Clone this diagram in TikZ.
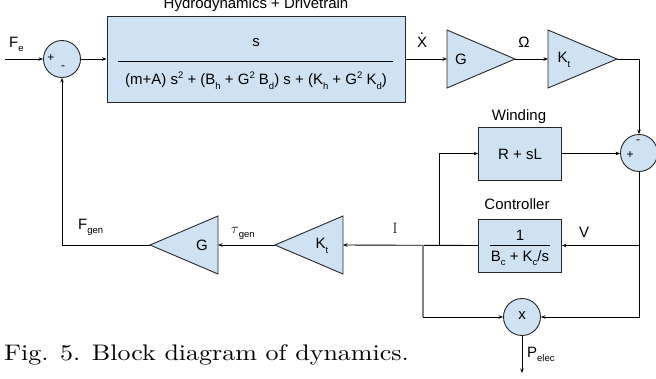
\documentclass[tikz,border=0pt]{standalone}
\usepackage{fontspec}
\newfontfamily\arial{Liberation Sans}
\usetikzlibrary{arrows.meta}
\definecolor{boxfill}{RGB}{207,226,243}
\definecolor{edge}{RGB}{40,40,40}
\newcommand{\lsub}[1]{\raisebox{-0.6ex}{\fontsize{9.5}{10}\selectfont #1}}
\newcommand{\lsup}[1]{\raisebox{0.75ex}{\fontsize{9.5}{10}\selectfont #1}}
\newcommand{\xdotted}{\ooalign{X\cr\hidewidth\raisebox{12.5pt}{.}\hidewidth}}
\begin{document}
\begin{tikzpicture}[x=1pt,y=-1pt,
  lbl/.style={font=\arial\fontsize{15}{17}\selectfont, inner sep=0pt},
  sgn/.style={font=\arial\fontsize{12}{13}\selectfont, inner sep=0pt},
  blk/.style={draw=edge, fill=boxfill, line width=0.9pt},
  wire/.style={line width=0.9pt, draw=black},
  arr/.style={wire, -{Stealth[length=4.5pt,width=3.5pt]}},
  sumc/.style={circle, draw=edge, fill=boxfill, line width=0.9pt, minimum size=37pt, inner sep=0pt},
  rbox/.style={blk, rectangle, inner sep=0pt},
]
\useasboundingbox (0,0) rectangle (656,378);

% ---- blocks ----
\node[sumc] (s1) at (62,59) {};
\node[sgn] (s1p) at (51,58) {+};
\node[sgn] (s1m) at (63,68) {-};

\node[rbox, minimum width=298pt, minimum height=86pt] (hd) at (256,59) {};
\node[lbl, anchor=base] (hdt) at (256,8) {Hydrodynamics + Drivetrain};
\node[lbl] (hdn) at (256,43) {s};
\draw[wire] (118,61) -- (393,61);
\node[lbl] (hdd) at (256,81) {(m+A) s\lsup{2} + (B\lsub{h} + G\lsup{2} B\lsub{d}) s + (K\lsub{h} + G\lsup{2} K\lsub{d})};

\path[blk] (447,30) -- (515,59) -- (447,88) -- cycle;
\coordinate (g1in) at (447,59);
\coordinate (g1out) at (515,59);
\node[lbl] (g1t) at (461,59) {G};

\path[blk] (548,30) -- (617,59) -- (548,88) -- cycle;
\coordinate (k1in) at (548,59);
\coordinate (k1out) at (617,59);
\node[lbl] (k1t) at (564,60) {K\lsub{t}};

\node[sumc] (s2) at (639,153) {};
\node[sgn] (s2m) at (638,142) {-};
\node[sgn] (s2p) at (630,155) {+};

\node[rbox, minimum width=83pt, minimum height=53pt] (wd) at (520,153.5) {};
\node[lbl] (wdt) at (519,117) {Winding};
\node[lbl] (wdx) at (520,154) {R + sL};

\node[rbox, minimum width=83pt, minimum height=53pt] (ct) at (520,245.5) {};
\node[lbl] (ctt) at (517,204) {Controller};
\node[lbl] (ctn) at (520,235) {1};
\draw[wire] (490,245) -- (550,245);
\node[lbl] (ctd) at (520,258) {B\lsub{c} + K\lsub{c}/s};

\path[blk] (343,216) -- (275,245) -- (343,274) -- cycle;
\coordinate (k2in) at (343,245);
\coordinate (k2out) at (275,245);
\node[lbl] (k2t) at (322,246) {K\lsub{t}};

\path[blk] (218,216) -- (150,245) -- (218,274) -- cycle;
\coordinate (g2in) at (218,245);
\coordinate (g2out) at (150,245);
\node[lbl] (g2t) at (202,245) {G};

\node[sumc] (mul) at (522,317) {};
\node[lbl] (mult) at (522,316) {x};

% ---- connectors ----
\coordinate (fein) at (5,59);
\draw[arr] (fein) -- (s1.west);
\draw[arr] (s1.east) -- (hd.west);
\draw[arr] (hd.east) -- (g1in);
\draw[arr] (g1out) -- (k1in);
\draw[arr] (k1out) -| (s2.north);
\draw[arr] (wd.east) -- (wd.east -| s2.west);
\coordinate (vj) at (s2.south |- ct.east);
\draw[arr] (s2.south) |- (mul.east);
\draw[arr] (vj) -- (ct.east);
\draw[arr] (ct.west) -- (k2in);
\coordinate (ij) at (439,245);
\draw[arr] (ij) |- (wd.west);
\coordinate (pj) at (423,245);
\coordinate (pk) at (423,317);
\draw[line width=1.3pt, draw=gray] (pj) -- (pk);
\draw[arr] (pk) -- (mul.west);
\draw[arr] (k2out) -- (g2in);
\draw[arr] (g2out) -| (s1.south);
\coordinate (pout) at (522,373);
\draw[arr] (mul.south) -- (pout);

% ---- labels ----
\node[lbl, anchor=base west] (fe) at (9,47) {F\lsub{e}};
\node[lbl, anchor=base] (xd) at (422,47) {\xdotted};
\node[lbl, anchor=base] (om) at (524,47) {Ω};
\node[lbl, anchor=base] (vl) at (584,237) {V};
\node[anchor=base, inner sep=0pt, font=\fontsize{15}{17}\selectfont] (il) at (395,233) {I};
\node[lbl, anchor=base west] (tg) at (231,233) {$\tau$\lsub{gen}};
\node[lbl, anchor=base west] (fg) at (78,229) {F\lsub{gen}};
\node[lbl, anchor=base west] (pe) at (527,357) {P\lsub{elec}};

\node[anchor=base west, inner sep=0pt] (cap) at (4,360) {\scalebox{2.6}[2.25]{\fontsize{10}{12}\selectfont Fig. 5. Block diagram of dynamics.}};
\end{tikzpicture}
\end{document}
